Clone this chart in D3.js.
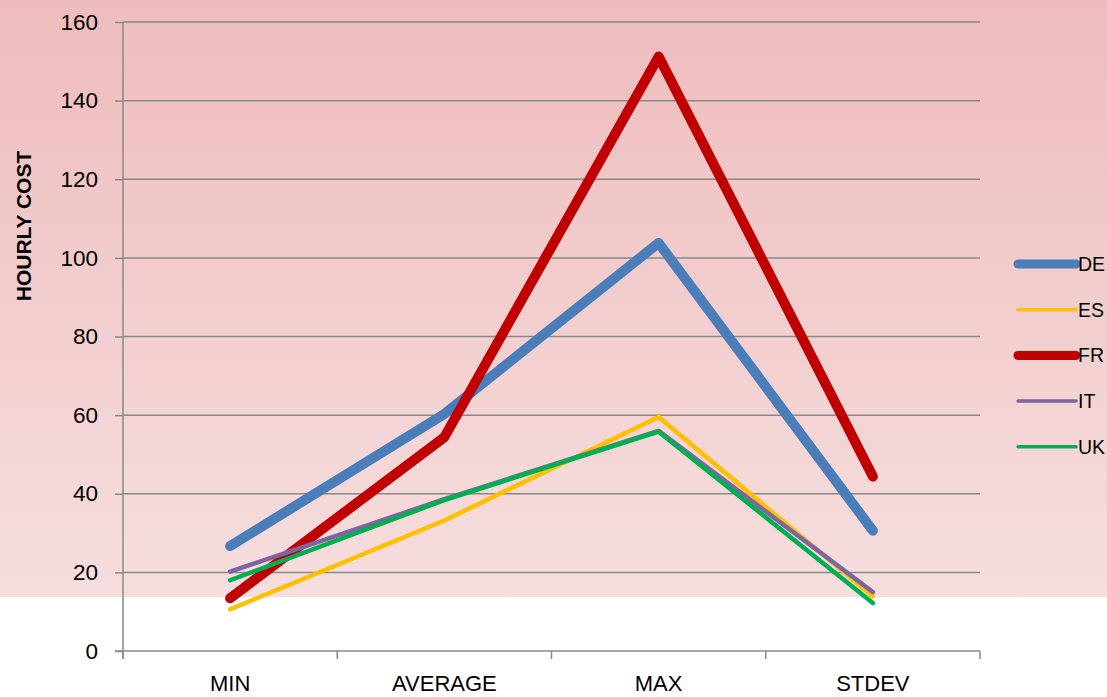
<!DOCTYPE html>
<html><head><meta charset="utf-8">
<script src="https://cdn.jsdelivr.net/npm/d3@7"></script>
<style>html,body{margin:0;padding:0;background:#fff;}svg{display:block;}</style>
</head><body>
<svg id="chart" width="1107" height="697"></svg>
<script>
const categories = ["MIN", "AVERAGE", "MAX", "STDEV"];
const seriesNames = ["DE", "ES", "FR", "IT", "UK"];
const DE = [26.7, 60.3, 103.8, 30.6];
const ES = [10.6, 33.2, 59.5, 13.9];
const FR = [13.4, 54.4, 151.2, 44.4];
const IT = [20.2, 38.6, 56.0, 15.0];
const UK = [18.0, 38.4, 55.8, 12.2];
const yTicks = [0, 20, 40, 60, 80, 100, 120, 140, 160];
const colors = ["#4a7ebb", "#ffc000", "#c00000", "#8064a2", "#00b050"];
const widths = [10, 4.5, 10, 4.5, 4.5];
const seriesValues = [DE, ES, FR, IT, UK];

(function () {
const svg = d3.select("#chart");
const font = "'Liberation Sans', Arial, sans-serif";

const defs = svg.append("defs");
const grad = defs.append("linearGradient").attr("id", "bg").attr("x1", 0).attr("y1", 0).attr("x2", 0).attr("y2", 1);
grad.append("stop").attr("offset", "0%").attr("stop-color", "#eebcbc");
grad.append("stop").attr("offset", "100%").attr("stop-color", "#f6dede");
svg.append("rect").attr("x", 0).attr("y", 0).attr("width", 1107).attr("height", 597).attr("fill", "url(#bg)");

const pLeft = 123, pRight = 980, pTop = 22, pBottom = 651;
const x = d3.scaleBand().domain(categories).range([pLeft, pRight]).padding(0);
const y = d3.scaleLinear().domain([0, 160]).range([pBottom, pTop]);

// gridlines
svg.append("g").selectAll("line").data(yTicks.filter(d => d > 0)).join("line")
  .attr("x1", pLeft).attr("x2", pRight)
  .attr("y1", d => y(d)).attr("y2", d => y(d))
  .attr("stroke", "#888888").attr("stroke-width", 1.5);

// y axis
const yAxis = svg.append("g").attr("transform", `translate(${pLeft},0)`)
  .call(d3.axisLeft(y).tickValues(yTicks).tickSize(8).tickPadding(17).tickSizeOuter(0));
yAxis.select(".domain").remove();
yAxis.selectAll("line").attr("stroke", "#888888").attr("stroke-width", 1.5);
yAxis.selectAll("text").attr("font-family", font).attr("font-size", 22.5).attr("fill", "#000");
svg.append("line").attr("x1", pLeft).attr("x2", pLeft).attr("y1", pTop).attr("y2", pBottom + 8)
  .attr("stroke", "#888888").attr("stroke-width", 1.5);

// x axis
svg.append("line").attr("x1", pLeft - 8).attr("x2", pRight).attr("y1", pBottom).attr("y2", pBottom)
  .attr("stroke", "#888888").attr("stroke-width", 1.5);
const xEdges = categories.map(c => x(c)).concat([x(categories[categories.length - 1]) + x.bandwidth()]);
svg.append("g").selectAll("line").data(xEdges).join("line")
  .attr("x1", d => d).attr("x2", d => d).attr("y1", pBottom).attr("y2", pBottom + 8)
  .attr("stroke", "#888888").attr("stroke-width", 1.5);
svg.append("g").selectAll("text").data(categories).join("text")
  .attr("x", d => x(d) + x.bandwidth() / 2).attr("y", 691)
  .attr("text-anchor", "middle").attr("font-family", font).attr("font-size", 22)
  .attr("fill", "#000").text(d => d);

// y label
svg.append("text").attr("transform", `translate(31,226) rotate(-90)`)
  .attr("text-anchor", "middle").attr("font-family", font).attr("font-weight", "bold")
  .attr("font-size", 21).attr("fill", "#000").text("HOURLY COST");

// lines
const line = d3.line().x((d, i) => x(categories[i]) + x.bandwidth() / 2).y(d => y(d));
svg.append("g").selectAll("path").data(seriesValues).join("path")
  .attr("d", d => line(d)).attr("fill", "none")
  .attr("stroke", (d, i) => colors[i]).attr("stroke-width", (d, i) => widths[i])
  .attr("stroke-linecap", "round").attr("stroke-linejoin", "round");

// legend
const lg = svg.append("g");
seriesNames.forEach((name, i) => {
  const ly = 264 + i * 45.7;
  lg.append("line").attr("x1", 1018).attr("x2", 1076).attr("y1", ly).attr("y2", ly)
    .attr("stroke", colors[i]).attr("stroke-width", widths[i] - 1).attr("stroke-linecap", "round");
  lg.append("text").attr("x", 1078).attr("y", ly).attr("dy", "0.36em")
    .attr("font-family", font).attr("font-size", 19.5).attr("fill", "#000").text(name);
});
})();
</script>
</body></html>
